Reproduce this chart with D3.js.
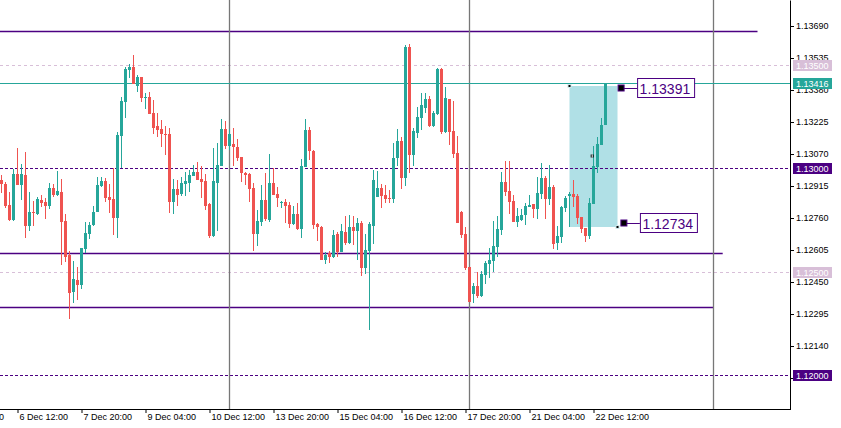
<!DOCTYPE html>
<html>
<head>
<meta charset="utf-8">
<script src="https://cdn.jsdelivr.net/npm/d3@7"></script>
<style>
  body { margin: 0; background: #fff; }
  svg { display: block; font-family: "Liberation Sans", Arial, sans-serif; }
</style>
</head>
<body>
<svg id="chart" width="841" height="428"></svg>
<script>
// EURUSD H2 candles (bar 0 = left edge)
const open = [1.12944,1.12925,1.12823,1.12750,1.12973,1.12921,1.12968,1.12721,1.12787,1.12779,
  1.12847,1.12837,1.12820,1.12905,1.12873,1.12886,1.12745,1.12581,1.12401,1.12460,
  1.12435,1.12610,1.12682,1.12724,1.12789,1.12915,1.12939,1.12862,1.12852,1.12760,
  1.13157,1.13322,1.13477,1.13491,1.13399,1.13443,1.13341,1.13346,1.13269,1.13206,
  1.13191,1.13167,1.13167,1.12837,1.12900,1.12876,1.12925,1.12929,1.12963,1.12983,
  1.12949,1.12939,1.12828,1.12673,1.12929,1.13012,1.13191,1.13109,1.13118,1.13104,
  1.13055,1.12978,1.12973,1.12905,1.12682,1.12741,1.12847,1.12750,1.12929,1.12876,
  1.12834,1.12837,1.12823,1.12731,1.12779,1.12707,1.13007,1.13186,1.13085,1.12731,
  1.12716,1.12557,1.12590,1.12571,1.12682,1.12595,1.12692,1.12639,1.12716,1.12697,
  1.12736,1.12518,1.12600,1.12721,1.12862,1.12905,1.12871,1.12857,1.12852,1.13051,
  1.13133,1.12954,1.13588,1.13065,1.13172,1.13244,1.13293,1.13336,1.13206,1.13264,
  1.13482,1.13177,1.13336,1.13181,1.13075,1.12789,1.12682,1.12523,1.12392,1.12431,
  1.12382,1.12484,1.12537,1.12552,1.12620,1.12702,1.12934,1.12891,1.12842,1.12741,
  1.12750,1.12775,1.12813,1.12828,1.12804,1.12876,1.12954,1.12852,1.12910,1.12639,
  1.12668,1.12808,1.12868,1.12876,1.12867,1.12765,1.12712,1.12673,1.12828,1.13007,
  1.13114,1.13210];
const high = [1.12968,1.12936,1.12884,1.12996,1.13099,1.13020,1.13080,1.12886,1.12842,1.12862,
  1.12871,1.12855,1.12928,1.12925,1.12988,1.12949,1.12779,1.12602,1.12552,1.12523,
  1.12615,1.12741,1.12741,1.12818,1.12960,1.12958,1.12954,1.12925,1.13002,1.13177,
  1.13346,1.13491,1.13506,1.13550,1.13453,1.13443,1.13365,1.13370,1.13332,1.13269,
  1.13235,1.13206,1.13196,1.12949,1.12944,1.12958,1.12983,1.12992,1.13017,1.13031,
  1.13012,1.12973,1.12831,1.13099,1.13123,1.13240,1.13230,1.13191,1.13196,1.13143,
  1.13055,1.12983,1.12978,1.12929,1.12799,1.12920,1.12978,1.13070,1.13002,1.12910,
  1.12842,1.12852,1.12837,1.12818,1.12833,1.13046,1.13240,1.13201,1.13089,1.12736,
  1.12721,1.12595,1.12600,1.12702,1.12692,1.12731,1.12770,1.12775,1.12770,1.12760,
  1.12745,1.12682,1.12741,1.12992,1.12988,1.12925,1.12920,1.12896,1.13123,1.13191,
  1.13152,1.13598,1.13603,1.13196,1.13298,1.13365,1.13365,1.13351,1.13278,1.13487,
  1.13487,1.13395,1.13336,1.13327,1.13157,1.12794,1.12716,1.12523,1.12445,1.12498,
  1.12503,1.12552,1.12615,1.12745,1.12770,1.12983,1.13036,1.13036,1.12871,1.12808,
  1.12804,1.12833,1.12871,1.12828,1.12958,1.13026,1.12963,1.13017,1.12920,1.12721,
  1.12818,1.12867,1.12886,1.12944,1.12876,1.12765,1.12712,1.12857,1.13109,1.13152,
  1.13244,1.13416];
const low = [1.12879,1.12807,1.12747,1.12747,1.12921,1.12847,1.12665,1.12699,1.12723,1.12775,
  1.12815,1.12755,1.12805,1.12863,1.12867,1.12532,1.12548,1.12272,1.12350,1.12364,
  1.12418,1.12592,1.12658,1.12721,1.12789,1.12912,1.12837,1.12784,1.12678,1.12663,
  1.13001,1.13244,1.13438,1.13411,1.13370,1.13322,1.13288,1.13264,1.13167,1.13152,
  1.13104,1.13065,1.12784,1.12779,1.12818,1.12867,1.12867,1.12886,1.12963,1.12944,
  1.12857,1.12799,1.12663,1.12668,1.12697,1.13012,1.13094,1.13089,1.13012,1.13036,
  1.12934,1.12920,1.12837,1.12600,1.12624,1.12721,1.12745,1.12741,1.12871,1.12813,
  1.12808,1.12736,1.12712,1.12726,1.12702,1.12663,1.13007,1.13041,1.12707,1.12649,
  1.12557,1.12537,1.12542,1.12566,1.12571,1.12595,1.12629,1.12634,1.12629,1.12557,
  1.12479,1.12489,1.12217,1.12634,1.12862,1.12808,1.12833,1.12833,1.12833,1.13012,
  1.12900,1.12915,1.12978,1.13012,1.13148,1.13186,1.13269,1.13201,1.13201,1.13259,
  1.13167,1.13172,1.13114,1.13051,1.12736,1.12663,1.12508,1.12353,1.12348,1.12373,
  1.12377,1.12440,1.12469,1.12498,1.12571,1.12678,1.12867,1.12779,1.12741,1.12716,
  1.12745,1.12726,1.12813,1.12760,1.12755,1.12852,1.12755,1.12823,1.12610,1.12605,
  1.12639,1.12789,1.12716,1.12813,1.12731,1.12687,1.12644,1.12658,1.12828,1.12978,
  1.13114,1.13210];
const close = [1.12925,1.12818,1.12750,1.12973,1.12921,1.12973,1.12721,1.12789,1.12784,1.12852,
  1.12834,1.12820,1.12905,1.12873,1.12890,1.12742,1.12573,1.12398,1.12464,1.12435,
  1.12615,1.12687,1.12726,1.12789,1.12920,1.12939,1.12857,1.12847,1.12760,1.13162,
  1.13327,1.13482,1.13491,1.13411,1.13443,1.13341,1.13344,1.13265,1.13196,1.13186,
  1.13167,1.13164,1.12837,1.12900,1.12871,1.12929,1.12939,1.12968,1.12983,1.12944,
  1.12936,1.12818,1.12673,1.12939,1.13017,1.13191,1.13109,1.13167,1.13104,1.13051,
  1.12978,1.12968,1.12900,1.12682,1.12745,1.12847,1.12755,1.12929,1.12871,1.12857,
  1.12839,1.12818,1.12731,1.12779,1.12707,1.13012,1.13186,1.13085,1.12726,1.12716,
  1.12557,1.12581,1.12571,1.12678,1.12595,1.12697,1.12639,1.12716,1.12697,1.12736,
  1.12518,1.12605,1.12731,1.12944,1.12905,1.12867,1.12852,1.12854,1.13051,1.13133,
  1.12954,1.13588,1.13065,1.13181,1.13249,1.13307,1.13336,1.13206,1.13269,1.13482,
  1.13177,1.13341,1.13177,1.13070,1.12736,1.12678,1.12518,1.12353,1.12431,1.12382,
  1.12489,1.12542,1.12557,1.12624,1.12707,1.12934,1.12886,1.12837,1.12741,1.12770,
  1.12775,1.12818,1.12825,1.12804,1.12881,1.12954,1.12852,1.12910,1.12634,1.12673,
  1.12813,1.12857,1.12876,1.12862,1.12760,1.12707,1.12673,1.12833,1.13012,1.13118,
  1.13210,1.13416];

// time axis: bar index of each label
const timeTickBars = [-12, 4, 20, 36, 52, 68, 84, 100, 116, 132, 148];
const timeTickLabels = ["3 Dec 04:00", "6 Dec 12:00", "7 Dec 20:00", "9 Dec 04:00", "10 Dec 12:00",
  "13 Dec 20:00", "15 Dec 04:00", "16 Dec 12:00", "17 Dec 20:00", "21 Dec 04:00", "22 Dec 12:00"];
const priceTicks = [1.13690, 1.13535, 1.13380, 1.13225, 1.13070, 1.12915, 1.12760,
  1.12605, 1.12450, 1.12295, 1.12140, 1.11985];

// chart objects
const bid = 1.13416;
const levelPrices = [1.13500, 1.13000, 1.12500, 1.12000];
const levelKinds = ["light", "dark", "light", "dark"];
const trendPrices = [1.13666, 1.12589, 1.12327];
const trendEndBars = [189, 180.3, 178];
const vlineBars = [57, 117, 178];
const boxBars = [142, 154];
const boxPrices = [1.13400, 1.12718];
const markPrices = [1.13391, 1.12734];
const markBars = [154.9, 155.6];

const green = '#26a69a', red = '#ef5350', indigo = '#4b0082', thistle = '#d8bfd8';
const plotW = 790, plotH = 409;

const svg = d3.select('#chart');

const x = d3.scaleLinear().domain([0, 151]).range([1.5, 605.5]);
const y = d3.scaleLinear().domain([1.11835, 1.13816]).range([plotH, 0]);

svg.append('clipPath').attr('id', 'plot')
  .append('rect').attr('width', plotW).attr('height', plotH);

const plot = svg.append('g').attr('clip-path', 'url(#plot)');

// highlighted range box
plot.append('rect')
  .attr('x', x(boxBars[0]))
  .attr('y', Math.round(y(boxPrices[0])))
  .attr('width', x(boxBars[1]) - x(boxBars[0]))
  .attr('height', Math.round(y(boxPrices[1])) - Math.round(y(boxPrices[0])))
  .attr('fill', '#b0e0e6');

// dashed round-number levels
plot.selectAll('.level')
  .data(levelPrices)
  .enter().append('line')
  .attr('x1', 0).attr('x2', plotW)
  .attr('y1', d => Math.round(y(d)) + 0.5)
  .attr('y2', d => Math.round(y(d)) + 0.5)
  .attr('stroke', (d, i) => levelKinds[i] === 'dark' ? indigo : thistle)
  .attr('stroke-dasharray', (d, i) => levelKinds[i] === 'dark' ? '3,2' : '3,3')
  .attr('stroke-width', 1);

// trend lines
plot.selectAll('.trend')
  .data(trendPrices)
  .enter().append('line')
  .attr('x1', 0)
  .attr('x2', (d, i) => x(trendEndBars[i]))
  .attr('y1', d => Math.round(y(d)) + 0.5)
  .attr('y2', d => Math.round(y(d)) + 0.5)
  .attr('stroke', indigo)
  .attr('stroke-width', 1.4);

// vertical lines
plot.selectAll('.vline')
  .data(vlineBars)
  .enter().append('line')
  .attr('x1', d => x(d)).attr('x2', d => x(d))
  .attr('y1', 0).attr('y2', plotH)
  .attr('stroke', '#777')
  .attr('stroke-width', 1.3);

// bid line
plot.append('line')
  .attr('x1', 0).attr('x2', plotW)
  .attr('y1', Math.round(y(bid)) + 0.5).attr('y2', Math.round(y(bid)) + 0.5)
  .attr('stroke', green).attr('stroke-width', 1.2);

// candles
const bars = d3.range(open.length);
const candle = plot.selectAll('.candle')
  .data(bars)
  .enter().append('g')
  .attr('fill', i => close[i] >= open[i] ? green : red)
  .attr('stroke', i => close[i] >= open[i] ? green : red);

candle.append('line')
  .attr('x1', i => x(i)).attr('x2', i => x(i))
  .attr('y1', i => Math.round(y(high[i])))
  .attr('y2', i => Math.round(y(low[i])))
  .attr('stroke-width', 1);

candle.append('rect')
  .attr('stroke', 'none')
  .attr('x', i => x(i) - 1.5)
  .attr('width', 3)
  .attr('y', i => Math.round(y(Math.max(open[i], close[i]))))
  .attr('height', i => Math.max(1, Math.round(y(Math.min(open[i], close[i]))) - Math.round(y(Math.max(open[i], close[i])))));

// corner anchors of the box
plot.selectAll('.anchor')
  .data([0, 1])
  .enter().append('rect')
  .attr('x', i => x(boxBars[i]) - 1.5)
  .attr('y', i => Math.round(y(boxPrices[i])) - 1.5)
  .attr('width', 3).attr('height', 3)
  .attr('fill', '#000')
  .attr('stroke', '#cfe9ec').attr('stroke-width', 1);

plot.append('rect')
  .attr('x', x(147.3)).attr('y', Math.round(y(1.13070)) + 0.5)
  .attr('width', 3).attr('height', 3)
  .attr('fill', '#000');
plot.append('rect')
  .attr('x', x(147.3) + 1).attr('y', Math.round(y(1.13070)) + 0.5)
  .attr('width', 1).attr('height', 3)
  .attr('fill', '#fff');

// price marks with labels
const mark = plot.selectAll('.mark')
  .data(markPrices)
  .enter().append('g')
  .attr('transform', (d, i) => `translate(${x(markBars[i])},${Math.round(y(d))})`);

mark.append('line')
  .attr('x1', 0).attr('x2', 16)
  .attr('y1', 0.5).attr('y2', 0.5)
  .attr('stroke', indigo);
mark.append('rect')
  .attr('x', -3).attr('y', -3)
  .attr('width', 6).attr('height', 6)
  .attr('fill', '#000').attr('stroke', indigo).attr('stroke-width', 1);
mark.append('rect')
  .attr('x', 16.5).attr('y', -9.5)
  .attr('width', 57).attr('height', 19)
  .attr('fill', '#fff').attr('stroke', indigo).attr('stroke-width', 1);
mark.append('text')
  .attr('x', 18.5).attr('y', 5.5)
  .attr('font-size', 14)
  .attr('fill', indigo)
  .text(d => d3.format('.5f')(d));

// right price axis
const yAxis = svg.append('g')
  .attr('transform', `translate(${plotW},0)`)
  .call(d3.axisRight(y)
    .tickValues(priceTicks)
    .tickFormat(d3.format('.5f'))
    .tickSize(4)
    .tickPadding(2)
    .tickSizeOuter(0));
yAxis.selectAll('text').attr('font-size', 9).attr('fill', '#000').attr('font-family', '"Liberation Sans", Arial, sans-serif');
yAxis.select('.domain').attr('stroke', '#000');

// price tags on the axis
const tags = levelPrices.concat([bid]);
const tagFill = levelKinds.map(k => k === 'dark' ? indigo : thistle).concat([green]);
const tag = svg.selectAll('.tag')
  .data(tags)
  .enter().append('g')
  .attr('transform', d => `translate(${plotW + 3},${Math.round(y(d))})`);
tag.append('rect')
  .attr('x', 0).attr('y', -5)
  .attr('width', 39).attr('height', 11)
  .attr('fill', (d, i) => tagFill[i]);
tag.append('text')
  .attr('x', 3).attr('y', 4)
  .attr('font-size', 9)
  .attr('fill', '#fff')
  .text(d => d3.format('.5f')(d));

// bottom time axis
const xAxis = svg.append('g')
  .attr('transform', `translate(0,${plotH})`)
  .call(d3.axisBottom(x)
    .tickValues(timeTickBars)
    .tickFormat((d, i) => timeTickLabels[i])
    .tickSize(4)
    .tickSizeOuter(0));
xAxis.select('.domain').remove();
xAxis.selectAll('text')
  .attr('text-anchor', 'start')
  .attr('x', 1.5)
  .attr('y', 5)
  .attr('font-size', 9)
  .attr('fill', '#000')
  .attr('font-family', '"Liberation Sans", Arial, sans-serif');
svg.append('line')
  .attr('x1', 0).attr('x2', plotW + 1)
  .attr('y1', plotH + 0.5).attr('y2', plotH + 0.5)
  .attr('stroke', '#000');
</script>
</body>
</html>
